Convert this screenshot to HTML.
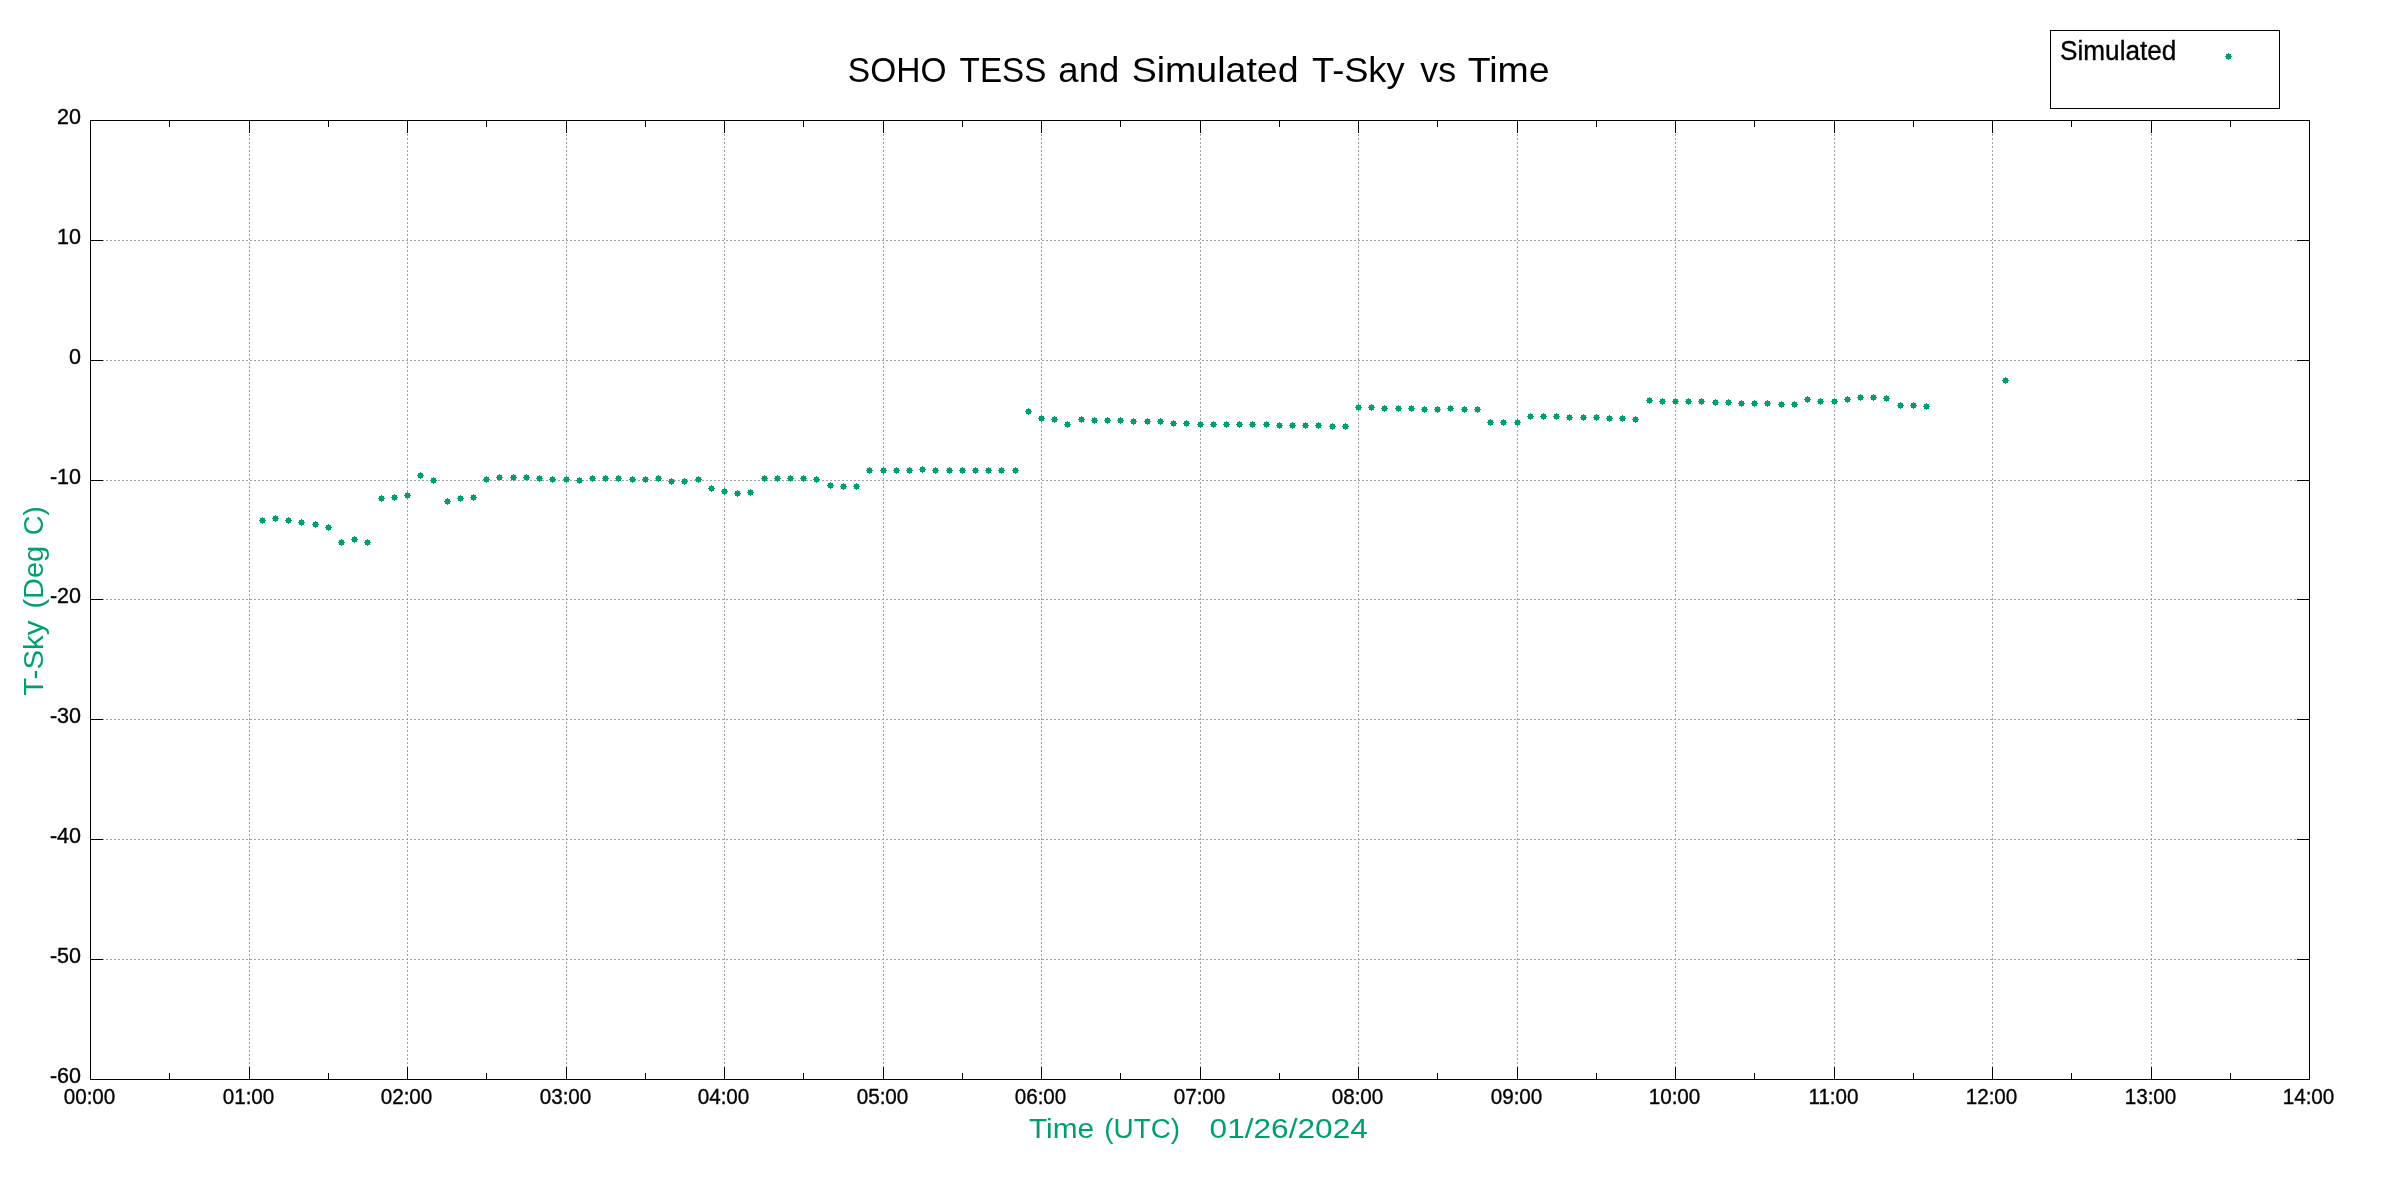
<!DOCTYPE html><html><head><meta charset="utf-8"><style>
html,body{margin:0;padding:0;background:#fff;width:2400px;height:1200px;overflow:hidden}
svg{position:absolute;left:0;top:0;display:block;will-change:transform}
text{font-family:"Liberation Sans",sans-serif}
.tk{font-size:21.5px;stroke:#000;stroke-width:0.35px}
</style></head><body>
<svg width="2400" height="1200" viewBox="0 0 2400 1200">
<rect x="0" y="0" width="2400" height="1200" fill="#fff"/>
<path d="M249.5 1080V120M407.5 1080V120M566.5 1080V120M724.5 1080V120M883.5 1080V120M1041.5 1080V120M1200.5 1080V120M1358.5 1080V120M1517.5 1080V120M1675.5 1080V120M1834.5 1080V120M1992.5 1080V120M2151.5 1080V120M90 959.5H2309M90 839.5H2309M90 719.5H2309M90 599.5H2309M90 480.5H2309M90 360.5H2309M90 240.5H2309" stroke="#a0a0a0" stroke-width="1" stroke-dasharray="2 2" fill="none" shape-rendering="crispEdges"/>
<path d="M90.5 1079v-12M90.5 120v13M249.5 1079v-12M249.5 120v13M407.5 1079v-12M407.5 120v13M566.5 1079v-12M566.5 120v13M724.5 1079v-12M724.5 120v13M883.5 1079v-12M883.5 120v13M1041.5 1079v-12M1041.5 120v13M1200.5 1079v-12M1200.5 120v13M1358.5 1079v-12M1358.5 120v13M1517.5 1079v-12M1517.5 120v13M1675.5 1079v-12M1675.5 120v13M1834.5 1079v-12M1834.5 120v13M1992.5 1079v-12M1992.5 120v13M2151.5 1079v-12M2151.5 120v13M2309.5 1079v-12M2309.5 120v13M169.5 1079v-6M169.5 120v7M328.5 1079v-6M328.5 120v7M486.5 1079v-6M486.5 120v7M645.5 1079v-6M645.5 120v7M803.5 1079v-6M803.5 120v7M962.5 1079v-6M962.5 120v7M1120.5 1079v-6M1120.5 120v7M1279.5 1079v-6M1279.5 120v7M1437.5 1079v-6M1437.5 120v7M1596.5 1079v-6M1596.5 120v7M1754.5 1079v-6M1754.5 120v7M1913.5 1079v-6M1913.5 120v7M2071.5 1079v-6M2071.5 120v7M2230.5 1079v-6M2230.5 120v7M90 1079.5h13M2310 1079.5h-13M90 959.5h13M2310 959.5h-13M90 839.5h13M2310 839.5h-13M90 719.5h13M2310 719.5h-13M90 599.5h13M2310 599.5h-13M90 480.5h13M2310 480.5h-13M90 360.5h13M2310 360.5h-13M90 240.5h13M2310 240.5h-13M90 120.5h13M2310 120.5h-13" stroke="#000" stroke-width="1" fill="none" shape-rendering="crispEdges"/>
<rect x="90.5" y="120.5" width="2219" height="959" stroke="#000" stroke-width="1" fill="none" shape-rendering="crispEdges"/>
<path d="M260 518h5v5h-5zM262 517h1v7h-1zM259 520h7v1h-7zM273 516h5v5h-5zM275 515h1v7h-1zM272 518h7v1h-7zM286 518h5v5h-5zM288 517h1v7h-1zM285 520h7v1h-7zM299 520h5v5h-5zM301 519h1v7h-1zM298 522h7v1h-7zM313 522h5v5h-5zM315 521h1v7h-1zM312 524h7v1h-7zM326 525h5v5h-5zM328 524h1v7h-1zM325 527h7v1h-7zM339 540h5v5h-5zM341 539h1v7h-1zM338 542h7v1h-7zM352 537h5v5h-5zM354 536h1v7h-1zM351 539h7v1h-7zM365 540h5v5h-5zM367 539h1v7h-1zM364 542h7v1h-7zM379 496h5v5h-5zM381 495h1v7h-1zM378 498h7v1h-7zM392 495h5v5h-5zM394 494h1v7h-1zM391 497h7v1h-7zM405 493h5v5h-5zM407 492h1v7h-1zM404 495h7v1h-7zM418 473h5v5h-5zM420 472h1v7h-1zM417 475h7v1h-7zM431 478h5v5h-5zM433 477h1v7h-1zM430 480h7v1h-7zM445 499h5v5h-5zM447 498h1v7h-1zM444 501h7v1h-7zM458 496h5v5h-5zM460 495h1v7h-1zM457 498h7v1h-7zM471 495h5v5h-5zM473 494h1v7h-1zM470 497h7v1h-7zM484 477h5v5h-5zM486 476h1v7h-1zM483 479h7v1h-7zM497 475h5v5h-5zM499 474h1v7h-1zM496 477h7v1h-7zM511 475h5v5h-5zM513 474h1v7h-1zM510 477h7v1h-7zM524 475h5v5h-5zM526 474h1v7h-1zM523 477h7v1h-7zM537 476h5v5h-5zM539 475h1v7h-1zM536 478h7v1h-7zM550 477h5v5h-5zM552 476h1v7h-1zM549 479h7v1h-7zM564 477h5v5h-5zM566 476h1v7h-1zM563 479h7v1h-7zM577 478h5v5h-5zM579 477h1v7h-1zM576 480h7v1h-7zM590 476h5v5h-5zM592 475h1v7h-1zM589 478h7v1h-7zM603 476h5v5h-5zM605 475h1v7h-1zM602 478h7v1h-7zM616 476h5v5h-5zM618 475h1v7h-1zM615 478h7v1h-7zM630 477h5v5h-5zM632 476h1v7h-1zM629 479h7v1h-7zM643 477h5v5h-5zM645 476h1v7h-1zM642 479h7v1h-7zM656 476h5v5h-5zM658 475h1v7h-1zM655 478h7v1h-7zM669 479h5v5h-5zM671 478h1v7h-1zM668 481h7v1h-7zM682 479h5v5h-5zM684 478h1v7h-1zM681 481h7v1h-7zM696 477h5v5h-5zM698 476h1v7h-1zM695 479h7v1h-7zM709 486h5v5h-5zM711 485h1v7h-1zM708 488h7v1h-7zM722 489h5v5h-5zM724 488h1v7h-1zM721 491h7v1h-7zM735 491h5v5h-5zM737 490h1v7h-1zM734 493h7v1h-7zM748 490h5v5h-5zM750 489h1v7h-1zM747 492h7v1h-7zM762 476h5v5h-5zM764 475h1v7h-1zM761 478h7v1h-7zM775 476h5v5h-5zM777 475h1v7h-1zM774 478h7v1h-7zM788 476h5v5h-5zM790 475h1v7h-1zM787 478h7v1h-7zM801 476h5v5h-5zM803 475h1v7h-1zM800 478h7v1h-7zM814 477h5v5h-5zM816 476h1v7h-1zM813 479h7v1h-7zM828 483h5v5h-5zM830 482h1v7h-1zM827 485h7v1h-7zM841 484h5v5h-5zM843 483h1v7h-1zM840 486h7v1h-7zM854 484h5v5h-5zM856 483h1v7h-1zM853 486h7v1h-7zM867 468h5v5h-5zM869 467h1v7h-1zM866 470h7v1h-7zM881 468h5v5h-5zM883 467h1v7h-1zM880 470h7v1h-7zM894 468h5v5h-5zM896 467h1v7h-1zM893 470h7v1h-7zM907 468h5v5h-5zM909 467h1v7h-1zM906 470h7v1h-7zM920 467h5v5h-5zM922 466h1v7h-1zM919 469h7v1h-7zM933 468h5v5h-5zM935 467h1v7h-1zM932 470h7v1h-7zM947 468h5v5h-5zM949 467h1v7h-1zM946 470h7v1h-7zM960 468h5v5h-5zM962 467h1v7h-1zM959 470h7v1h-7zM973 468h5v5h-5zM975 467h1v7h-1zM972 470h7v1h-7zM986 468h5v5h-5zM988 467h1v7h-1zM985 470h7v1h-7zM999 468h5v5h-5zM1001 467h1v7h-1zM998 470h7v1h-7zM1013 468h5v5h-5zM1015 467h1v7h-1zM1012 470h7v1h-7zM1026 409h5v5h-5zM1028 408h1v7h-1zM1025 411h7v1h-7zM1039 416h5v5h-5zM1041 415h1v7h-1zM1038 418h7v1h-7zM1052 417h5v5h-5zM1054 416h1v7h-1zM1051 419h7v1h-7zM1065 422h5v5h-5zM1067 421h1v7h-1zM1064 424h7v1h-7zM1079 417h5v5h-5zM1081 416h1v7h-1zM1078 419h7v1h-7zM1092 418h5v5h-5zM1094 417h1v7h-1zM1091 420h7v1h-7zM1105 418h5v5h-5zM1107 417h1v7h-1zM1104 420h7v1h-7zM1118 418h5v5h-5zM1120 417h1v7h-1zM1117 420h7v1h-7zM1131 419h5v5h-5zM1133 418h1v7h-1zM1130 421h7v1h-7zM1145 419h5v5h-5zM1147 418h1v7h-1zM1144 421h7v1h-7zM1158 419h5v5h-5zM1160 418h1v7h-1zM1157 421h7v1h-7zM1171 421h5v5h-5zM1173 420h1v7h-1zM1170 423h7v1h-7zM1184 421h5v5h-5zM1186 420h1v7h-1zM1183 423h7v1h-7zM1198 422h5v5h-5zM1200 421h1v7h-1zM1197 424h7v1h-7zM1211 422h5v5h-5zM1213 421h1v7h-1zM1210 424h7v1h-7zM1224 422h5v5h-5zM1226 421h1v7h-1zM1223 424h7v1h-7zM1237 422h5v5h-5zM1239 421h1v7h-1zM1236 424h7v1h-7zM1250 422h5v5h-5zM1252 421h1v7h-1zM1249 424h7v1h-7zM1264 422h5v5h-5zM1266 421h1v7h-1zM1263 424h7v1h-7zM1277 423h5v5h-5zM1279 422h1v7h-1zM1276 425h7v1h-7zM1290 423h5v5h-5zM1292 422h1v7h-1zM1289 425h7v1h-7zM1303 423h5v5h-5zM1305 422h1v7h-1zM1302 425h7v1h-7zM1316 423h5v5h-5zM1318 422h1v7h-1zM1315 425h7v1h-7zM1330 424h5v5h-5zM1332 423h1v7h-1zM1329 426h7v1h-7zM1343 424h5v5h-5zM1345 423h1v7h-1zM1342 426h7v1h-7zM1356 405h5v5h-5zM1358 404h1v7h-1zM1355 407h7v1h-7zM1369 405h5v5h-5zM1371 404h1v7h-1zM1368 407h7v1h-7zM1382 406h5v5h-5zM1384 405h1v7h-1zM1381 408h7v1h-7zM1396 406h5v5h-5zM1398 405h1v7h-1zM1395 408h7v1h-7zM1409 406h5v5h-5zM1411 405h1v7h-1zM1408 408h7v1h-7zM1422 407h5v5h-5zM1424 406h1v7h-1zM1421 409h7v1h-7zM1435 407h5v5h-5zM1437 406h1v7h-1zM1434 409h7v1h-7zM1448 406h5v5h-5zM1450 405h1v7h-1zM1447 408h7v1h-7zM1462 407h5v5h-5zM1464 406h1v7h-1zM1461 409h7v1h-7zM1475 407h5v5h-5zM1477 406h1v7h-1zM1474 409h7v1h-7zM1488 420h5v5h-5zM1490 419h1v7h-1zM1487 422h7v1h-7zM1501 420h5v5h-5zM1503 419h1v7h-1zM1500 422h7v1h-7zM1515 420h5v5h-5zM1517 419h1v7h-1zM1514 422h7v1h-7zM1528 414h5v5h-5zM1530 413h1v7h-1zM1527 416h7v1h-7zM1541 414h5v5h-5zM1543 413h1v7h-1zM1540 416h7v1h-7zM1554 414h5v5h-5zM1556 413h1v7h-1zM1553 416h7v1h-7zM1567 415h5v5h-5zM1569 414h1v7h-1zM1566 417h7v1h-7zM1581 415h5v5h-5zM1583 414h1v7h-1zM1580 417h7v1h-7zM1594 415h5v5h-5zM1596 414h1v7h-1zM1593 417h7v1h-7zM1607 416h5v5h-5zM1609 415h1v7h-1zM1606 418h7v1h-7zM1620 416h5v5h-5zM1622 415h1v7h-1zM1619 418h7v1h-7zM1633 417h5v5h-5zM1635 416h1v7h-1zM1632 419h7v1h-7zM1647 398h5v5h-5zM1649 397h1v7h-1zM1646 400h7v1h-7zM1660 399h5v5h-5zM1662 398h1v7h-1zM1659 401h7v1h-7zM1673 399h5v5h-5zM1675 398h1v7h-1zM1672 401h7v1h-7zM1686 399h5v5h-5zM1688 398h1v7h-1zM1685 401h7v1h-7zM1699 399h5v5h-5zM1701 398h1v7h-1zM1698 401h7v1h-7zM1713 400h5v5h-5zM1715 399h1v7h-1zM1712 402h7v1h-7zM1726 400h5v5h-5zM1728 399h1v7h-1zM1725 402h7v1h-7zM1739 401h5v5h-5zM1741 400h1v7h-1zM1738 403h7v1h-7zM1752 401h5v5h-5zM1754 400h1v7h-1zM1751 403h7v1h-7zM1765 401h5v5h-5zM1767 400h1v7h-1zM1764 403h7v1h-7zM1779 402h5v5h-5zM1781 401h1v7h-1zM1778 404h7v1h-7zM1792 402h5v5h-5zM1794 401h1v7h-1zM1791 404h7v1h-7zM1805 397h5v5h-5zM1807 396h1v7h-1zM1804 399h7v1h-7zM1818 399h5v5h-5zM1820 398h1v7h-1zM1817 401h7v1h-7zM1832 399h5v5h-5zM1834 398h1v7h-1zM1831 401h7v1h-7zM1845 397h5v5h-5zM1847 396h1v7h-1zM1844 399h7v1h-7zM1858 395h5v5h-5zM1860 394h1v7h-1zM1857 397h7v1h-7zM1871 395h5v5h-5zM1873 394h1v7h-1zM1870 397h7v1h-7zM1884 396h5v5h-5zM1886 395h1v7h-1zM1883 398h7v1h-7zM1898 403h5v5h-5zM1900 402h1v7h-1zM1897 405h7v1h-7zM1911 403h5v5h-5zM1913 402h1v7h-1zM1910 405h7v1h-7zM1924 404h5v5h-5zM1926 403h1v7h-1zM1923 406h7v1h-7zM2003 378h5v5h-5zM2005 377h1v7h-1zM2002 380h7v1h-7z" fill="#009e73" shape-rendering="crispEdges"/>
<text class="tk" x="81" y="1083" text-anchor="end">-60</text>
<text class="tk" x="81" y="963" text-anchor="end">-50</text>
<text class="tk" x="81" y="843" text-anchor="end">-40</text>
<text class="tk" x="81" y="723" text-anchor="end">-30</text>
<text class="tk" x="81" y="603" text-anchor="end">-20</text>
<text class="tk" x="81" y="484" text-anchor="end">-10</text>
<text class="tk" x="81" y="364" text-anchor="end">0</text>
<text class="tk" x="81" y="244" text-anchor="end">10</text>
<text class="tk" x="81" y="124" text-anchor="end">20</text>
<text class="tk" text-anchor="middle" transform="translate(89.5 1104) scale(0.96 1)">00:00</text>
<text class="tk" text-anchor="middle" transform="translate(248.5 1104) scale(0.96 1)">01:00</text>
<text class="tk" text-anchor="middle" transform="translate(406.5 1104) scale(0.96 1)">02:00</text>
<text class="tk" text-anchor="middle" transform="translate(565.5 1104) scale(0.96 1)">03:00</text>
<text class="tk" text-anchor="middle" transform="translate(723.5 1104) scale(0.96 1)">04:00</text>
<text class="tk" text-anchor="middle" transform="translate(882.5 1104) scale(0.96 1)">05:00</text>
<text class="tk" text-anchor="middle" transform="translate(1040.5 1104) scale(0.96 1)">06:00</text>
<text class="tk" text-anchor="middle" transform="translate(1199.5 1104) scale(0.96 1)">07:00</text>
<text class="tk" text-anchor="middle" transform="translate(1357.5 1104) scale(0.96 1)">08:00</text>
<text class="tk" text-anchor="middle" transform="translate(1516.5 1104) scale(0.96 1)">09:00</text>
<text class="tk" text-anchor="middle" transform="translate(1674.5 1104) scale(0.96 1)">10:00</text>
<text class="tk" text-anchor="middle" transform="translate(1833.5 1104) scale(0.96 1)">11:00</text>
<text class="tk" text-anchor="middle" transform="translate(1991.5 1104) scale(0.96 1)">12:00</text>
<text class="tk" text-anchor="middle" transform="translate(2150.5 1104) scale(0.96 1)">13:00</text>
<text class="tk" text-anchor="middle" transform="translate(2308.5 1104) scale(0.96 1)">14:00</text>
<text transform="translate(847.78 82) scale(0.9580 1)" font-size="35" fill="#000">SOHO</text>
<text transform="translate(959.60 82) scale(0.9489 1)" font-size="35" fill="#000">TESS</text>
<text transform="translate(1058.36 82) scale(1.0418 1)" font-size="35" fill="#000">and</text>
<text transform="translate(1131.76 82) scale(1.0724 1)" font-size="35" fill="#000">Simulated</text>
<text transform="translate(1312.00 82) scale(1.0356 1)" font-size="35" fill="#000">T-Sky</text>
<text transform="translate(1420.30 82) scale(1.0265 1)" font-size="35" fill="#000">vs</text>
<text transform="translate(1467.70 82) scale(1.0707 1)" font-size="35" fill="#000">Time</text>
<rect x="2050.5" y="30.5" width="229" height="78" stroke="#000" stroke-width="1" fill="none" shape-rendering="crispEdges"/>
<text transform="translate(2060.07 60) scale(0.9344 1)" font-size="28" fill="#000" stroke="#000" stroke-width="0.35">Simulated</text>
<path d="M2226 54h5v5h-5zM2228 53h1v7h-1zM2225 56h7v1h-7z" fill="#009e73" shape-rendering="crispEdges"/>
<text transform="translate(1029.00 1138) scale(1.0650 1)" font-size="28" fill="#009e73">Time</text>
<text transform="translate(1104.20 1138) scale(0.9973 1)" font-size="28" fill="#009e73">(UTC)</text>
<text transform="translate(1209.57 1138) scale(1.1302 1)" font-size="28" fill="#009e73">01/26/2024</text>
<text transform="translate(43 695.80) rotate(-90) scale(1.0528 1)" font-size="28" fill="#009e73">T-Sky</text>
<text transform="translate(43 608.53) rotate(-90) scale(1.0345 1)" font-size="28" fill="#009e73">(Deg</text>
<text transform="translate(43 535.17) rotate(-90) scale(0.9741 1)" font-size="28" fill="#009e73">C)</text>
</svg></body></html>
